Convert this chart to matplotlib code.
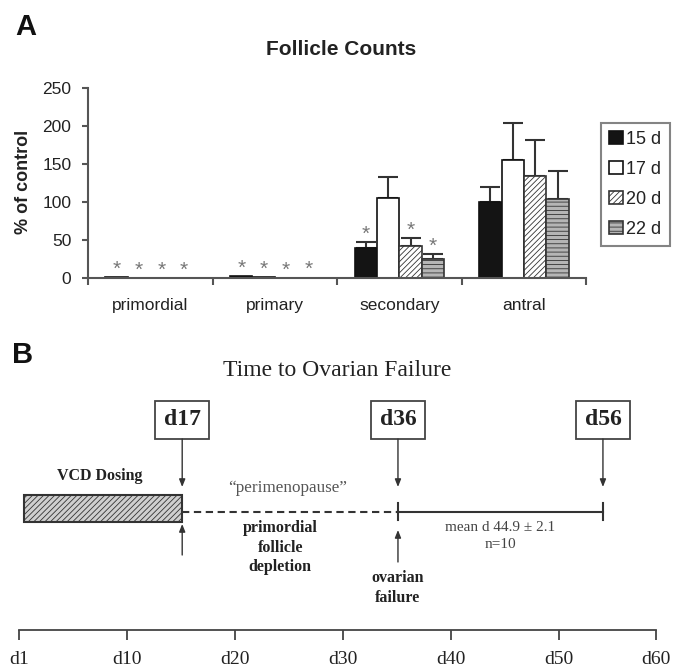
import numpy as np
import matplotlib
matplotlib.use("Agg")
import matplotlib.pyplot as plt
from matplotlib.patches import Rectangle

# ---- data, panel A (follicle counts, % of control) ----
categories = ["primordial", "primary", "secondary", "antral"]
groups = ["15 d", "17 d", "20 d", "22 d"]
means = {
    "15 d": [2, 3, 40, 100],
    "17 d": [0.5, 2, 106, 156],
    "20 d": [0, 0, 42, 134],
    "22 d": [0, 1, 25, 105],
}
errs = {
    "15 d": [0, 0, 8, 20],
    "17 d": [0, 0, 27, 49],
    "20 d": [0, 0, 11, 48],
    "22 d": [0, 0, 7, 36],
}
signif = {
    "15 d": [1, 1, 1, 0],
    "17 d": [1, 1, 0, 0],
    "20 d": [1, 1, 1, 0],
    "22 d": [1, 1, 1, 0],
}
yticks_a = [0, 50, 100, 150, 200, 250]

# ---- data, panel B (timeline, schematic day positions) ----
day_ticks = [0, 10, 20, 30, 40, 50, 59]
day_labels = ["d1", "d10", "d20", "d30", "d40", "d50", "d60"]
dose_start, dose_end = 0.4, 15.1
failure_pos = 35.1
end_pos = 54.1
event_pos = [15.1, 35.1, 54.1]
event_labels = ["d17", "d36", "d56"]

plt.rcParams["hatch.linewidth"] = 0.6
sans = ["Liberation Sans", "DejaVu Sans"]
serif = ["Liberation Serif", "DejaVu Serif"]

fig = plt.figure(figsize=(6.73, 6.67), dpi=100)

# ================= panel A =================
ax = fig.add_axes([88 / 673, 1 - 278.3 / 667, 498.3 / 673, 190 / 667])
styles = {
    "15 d": dict(color="#141414", edgecolor="#111111", hatch=None),
    "17 d": dict(color="white", edgecolor="#111111", hatch=None),
    "20 d": dict(color="white", edgecolor="#333333", hatch="//////"),
    "22 d": dict(color="#b5b5b5", edgecolor="#333333", hatch="----"),
}
x = np.arange(len(categories))
w = 0.18
for i, g in enumerate(groups):
    xs = x + (i - 1.5) * w
    st = styles[g]
    ax.bar(xs, means[g], w, color=st["color"], edgecolor=st["edgecolor"],
           hatch=st["hatch"], linewidth=1.2, label=g, zorder=2)
    m = np.array(means[g], dtype=float)
    e = np.array(errs[g], dtype=float)
    sel = e > 0
    ax.errorbar(xs[sel], m[sel], yerr=[np.zeros(sel.sum()), e[sel]], fmt="none",
                ecolor="#333333", elinewidth=1.5, capsize=7, capthick=1.5, zorder=1)
    for xi, top, s in zip(xs, m + e, signif[g]):
        if s:
            ax.text(xi, top + 3, "*", ha="center", va="baseline", fontsize=15,
                    color="#777777", family=sans)

ax.set_xlim(-0.5, 3.5)
ax.set_ylim(0, 250)
ax.set_yticks(yticks_a)
ax.set_xticks(x)
ax.set_xticklabels(categories, family=sans, fontsize=12.5, color="#222222")
ax.set_xticks(np.arange(-0.5, 4, 1), minor=True)
ax.tick_params(axis="x", which="major", length=0, pad=14)
ax.tick_params(axis="x", which="minor", length=5, width=1.5, color="#555555", direction="out")
ax.tick_params(axis="y", length=4, width=1.5, color="#555555", pad=8, labelsize=12.5,
               labelcolor="#222222")
for lbl in ax.get_yticklabels():
    lbl.set_family(sans)
for side in ["top", "right"]:
    ax.spines[side].set_visible(False)
for side in ["left", "bottom"]:
    ax.spines[side].set_color("#555555")
    ax.spines[side].set_linewidth(1.5)
ax.set_facecolor("none")

fig.text(23.6 / 673, 1 - 181.7 / 667, "% of control", rotation=90, ha="center",
         va="center", fontsize=13, fontweight="bold", family=sans, color="#222222")
fig.text(341.5 / 673, 1 - 49.3 / 667, "Follicle Counts", ha="center", va="center",
         fontsize=15, fontweight="bold", family=sans, color="#222222")
fig.text(25.8 / 673, 1 - 26.7 / 667, "A", ha="center", va="center", fontsize=21,
         fontweight="bold", family=sans, color="#111111")

leg = fig.legend(loc="upper left", bbox_to_anchor=(601 / 673, 1 - 123 / 667),
                 prop={"family": sans, "size": 13}, handlelength=0.75, handleheight=0.75,
                 handletextpad=0.2, labelspacing=0.72, borderpad=0.45,
                 fancybox=False, borderaxespad=0)
leg.get_frame().set_edgecolor("#666666")
leg.get_frame().set_linewidth(1.5)
for t in leg.get_texts():
    t.set_color("#222222")

# ================= panel B =================
bx = fig.add_axes([19.3 / 673, 37 / 667, 636.5 / 673, 290 / 667])
bx.set_xlim(0, 59)
bx.set_ylim(-118, 172)
bx.set_facecolor("none")
for side in ["top", "right", "left"]:
    bx.spines[side].set_visible(False)
bx.spines["bottom"].set_color("#444444")
bx.spines["bottom"].set_linewidth(1.3)
bx.set_yticks([])
bx.set_xticks(day_ticks)
bx.set_xticklabels(day_labels, family=serif, fontsize=14, color="#222222")
bx.tick_params(axis="x", length=7, width=1.3, color="#444444", direction="out", pad=8)

tcol = "#222222"
bx.add_patch(Rectangle((dose_start, -10), dose_end - dose_start, 27, facecolor="#cfcfcf",
                       edgecolor="#333333", hatch="//////", linewidth=1.5, zorder=2))
bx.plot([dose_end, failure_pos], [0, 0], color="#333333", lw=1.5, ls=(0, (3.5, 2.2)))
bx.plot([failure_pos, end_pos], [0, 0], color="#333333", lw=1.5)
for xp in [failure_pos, end_pos]:
    bx.plot([xp, xp], [-8, 9], color="#333333", lw=1.5)

arrow = dict(arrowstyle="-|>,head_length=0.45,head_width=0.18", color="#333333", lw=1.0,
             shrinkA=0, shrinkB=0)
for xp, lab in zip(event_pos, event_labels):
    bx.text(xp, 92.5, lab, ha="center", va="center", fontsize=17, fontweight="bold",
            family=serif, color=tcol,
            bbox=dict(boxstyle="square,pad=0.36", facecolor="white", edgecolor="#444444",
                      linewidth=1.3))
    bx.annotate("", xy=(xp, 25), xytext=(xp, 73), arrowprops=arrow)
bx.annotate("", xy=(dose_end, -12), xytext=(dose_end, -43), arrowprops=arrow)
bx.annotate("", xy=(failure_pos, -18), xytext=(failure_pos, -50), arrowprops=arrow)

bx.text(29.5, 141, "Time to Ovarian Failure", ha="center", va="center", fontsize=17,
        family=serif, color=tcol)
bx.text(7.5, 36, "VCD Dosing", ha="center", va="center", fontsize=11.5,
        fontweight="bold", family=serif, color=tcol)
bx.text(24.9, 24, "\u201cperimenopause\u201d", ha="center", va="center", fontsize=12.3,
        family=serif, color="#555555")
bx.text(24.2, -8, "primordial\nfollicle\ndepletion", ha="center", va="top",
        fontsize=11.5, fontweight="bold", family=serif, color=tcol, linespacing=1.3)
bx.text(failure_pos, -58, "ovarian\nfailure", ha="center", va="top", fontsize=11.5,
        fontweight="bold", family=serif, color=tcol, linespacing=1.3)
bx.text(44.6, -9, "mean d 44.9 \u00b1 2.1\nn=10", ha="center", va="top", fontsize=11,
        family=serif, color="#444444", linespacing=1.45)

fig.text(23 / 673, 1 - 354.7 / 667, "B", ha="center", va="center", fontsize=21,
         fontweight="bold", family=sans, color="#111111")

fig.savefig("out.png", dpi=100)
